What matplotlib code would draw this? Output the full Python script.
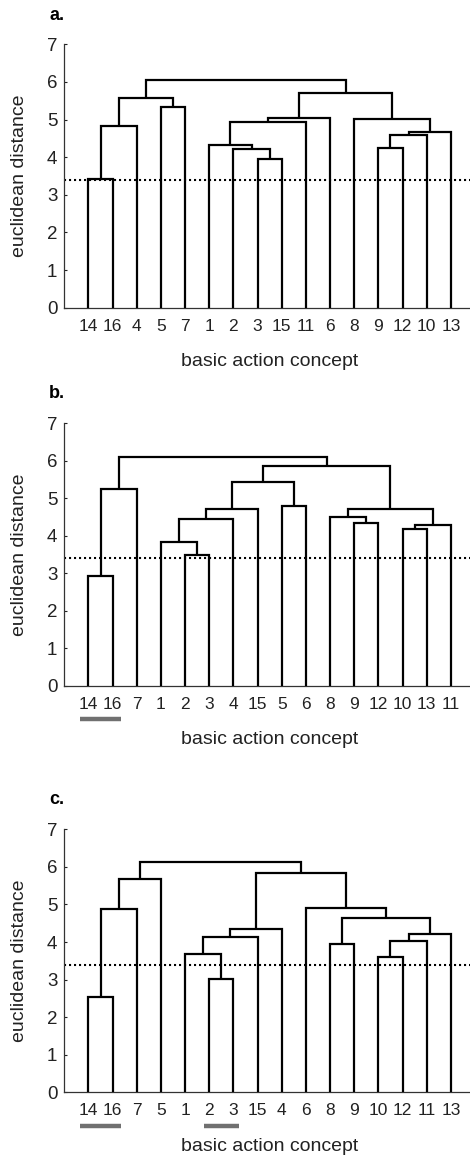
#!/usr/bin/env python3

import matplotlib
matplotlib.use('Agg')
import matplotlib.pyplot as plt
import matplotlib.transforms as mtrans

plt.rcParams['font.family'] = ['Liberation Sans', 'DejaVu Sans']

# leaf order shown on each x axis
order_a = [14, 16, 4, 5, 7, 1, 2, 3, 15, 11, 6, 8, 9, 12, 10, 13]
order_b = [14, 16, 7, 1, 2, 3, 4, 15, 5, 6, 8, 9, 12, 10, 13, 11]
order_c = [14, 16, 7, 5, 1, 2, 3, 15, 4, 6, 8, 9, 10, 12, 11, 13]

# merges (a, b, height); leaves are 1..16, merge k gets id 17 + k
merges_a = [(14, 16, 3.41), (17, 4, 4.84), (5, 7, 5.33), (18, 19, 5.57),
            (3, 15, 3.94), (2, 21, 4.22), (1, 22, 4.32), (23, 11, 4.93),
            (24, 6, 5.03), (9, 12, 4.24), (26, 10, 4.60), (27, 13, 4.68),
            (8, 28, 5.01), (25, 29, 5.70), (20, 30, 6.06)]
merges_b = [(14, 16, 2.93), (17, 7, 5.24), (2, 3, 3.48), (1, 19, 3.84),
            (20, 4, 4.46), (21, 15, 4.71), (5, 6, 4.80), (22, 23, 5.44),
            (9, 12, 4.35), (8, 25, 4.49), (10, 13, 4.19), (27, 11, 4.30),
            (26, 28, 4.72), (24, 29, 5.85), (18, 30, 6.11)]
merges_c = [(14, 16, 2.53), (17, 7, 4.89), (18, 5, 5.69), (2, 3, 3.01),
            (1, 20, 3.67), (21, 15, 4.14), (22, 4, 4.34), (8, 9, 3.95),
            (10, 12, 3.60), (25, 11, 4.02), (26, 13, 4.21), (24, 27, 4.63),
            (6, 28, 4.91), (23, 29, 5.85), (19, 30, 6.13)]

# underlined label groups
marks_b = [(14, 16)]
marks_c = [(14, 16), (2, 3)]

threshold = 3.4
panel_letters = ['a.', 'b.', 'c.']

W, H = 470, 1161
fig = plt.figure(figsize=(W / 100, H / 100), dpi=100)

# axes placement in pixels: (y of zero line, y of 7 line)
rows = [(307.7, 44.3), (686.0, 423.3), (1092.3, 829.3)]
letter_y = [15, 394, 799]
left_px = 64.3
step = 24.16
xmax = 16.78


def drawDendrogram(ax, order, merges):
    pos = {leaf: i + 1 for i, leaf in enumerate(order)}
    height = {leaf: 0.0 for leaf in order}
    for k, (a, b, h) in enumerate(merges):
        xa, xb = pos[a], pos[b]
        ax.plot([xa, xa, xb, xb], [height[a], h, h, height[b]],
                color='black', lw=1.6, solid_joinstyle='miter',
                solid_capstyle='butt', zorder=3)
        pos[17 + k] = (xa + xb) / 2
        height[17 + k] = h


panels = [(order_a, merges_a, []), (order_b, merges_b, marks_b),
          (order_c, merges_c, marks_c)]

for i, (order, merges, marks) in enumerate(panels):
    y0, y7 = rows[i]
    ax = fig.add_axes([left_px / W, 1 - y0 / H, xmax * step / W, (y0 - y7) / H])
    drawDendrogram(ax, order, merges)
    ax.axhline(threshold, color='black', lw=1.5, ls=(0, (1, 1.4)), zorder=2)

    ax.set_xlim(0, xmax)
    ax.set_ylim(0, 7)
    ax.set_xticks(range(1, len(order) + 1))
    ax.set_xticklabels([str(v) for v in order])
    ax.set_yticks(range(0, 8))
    ax.tick_params(axis='x', length=0, pad=8, labelsize=12.5, colors='#222222')
    ax.tick_params(axis='y', direction='in', length=2.5, width=0.8,
                   pad=5, labelsize=13.5, colors='#222222')
    for side in ['top', 'right']:
        ax.spines[side].set_visible(False)
    for side in ['left', 'bottom']:
        ax.spines[side].set_color('#333333')
        ax.spines[side].set_linewidth(0.9)

    # underline bars below selected label pairs
    trans = mtrans.blended_transform_factory(ax.transData, ax.transAxes)
    for first, last in marks:
        x1 = order.index(first) + 1 - (0.1 + 0.12 * len(str(first)))
        x2 = order.index(last) + 1 + (0.1 + 0.12 * len(str(last)))
        ax.plot([x1, x2], [-0.127, -0.127], color='#707070', lw=3.2,
                solid_capstyle='butt', transform=trans, clip_on=False)

    fig.text(270 / W, 1 - (y0 + 54) / H, 'basic action concept',
             ha='center', va='center', fontsize=14, color='#222222')
    fig.text(20 / W, 1 - (y0 + y7) / 2 / H, 'euclidean distance',
             ha='center', va='center', rotation=90, fontsize=14, color='#222222')
    fig.text(57 / W, 1 - letter_y[i] / H, panel_letters[i],
             ha='center', va='center', fontsize=13, fontweight='bold')

fig.savefig('out.png', dpi=100)
